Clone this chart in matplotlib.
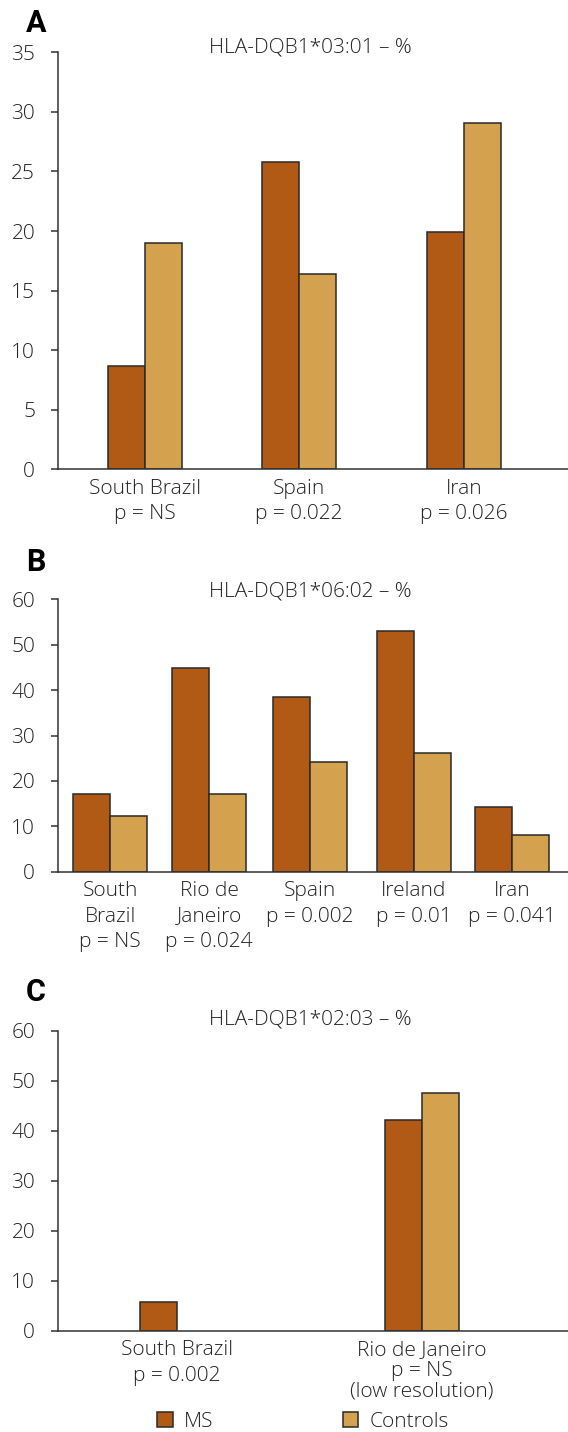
import numpy as np
import matplotlib.pyplot as plt

plt.rcParams["font.family"] = ["Open Sans", "DejaVu Sans"]
plt.rcParams["font.weight"] = "light"

# panel A - HLA-DQB1*03:01
a_labels = ["South Brazil\np = NS", "Spain\np = 0.022", "Iran\np = 0.026"]
a_ms = [8.7, 25.8, 19.9]
a_ctrl = [19.0, 16.4, 29.1]

# panel B - HLA-DQB1*06:02
b_labels = ["South\nBrazil\np = NS", "Rio de\nJaneiro\np = 0.024", "Spain\np = 0.002",
            "Ireland\np = 0.01", "Iran\np = 0.041"]
b_ms = [17.1, 44.9, 38.5, 53.1, 14.3]
b_ctrl = [12.3, 17.1, 24.2, 26.2, 8.0]

# panel C - HLA-DQB1*02:03 (no controls bar for South Brazil)
c_labels = ["South Brazil\np = 0.002", "Rio de Janeiro\np = NS\n(low resolution)"]
c_ms = [5.8, 42.2]
c_ctrl = [np.nan, 47.6]

ms_color = "#b15a16"
ctrl_color = "#d4a24e"
edge = "#2a2a2a"
axis_col = "#333333"
txt_col = "#222222"
fs = 15

W, H = 568, 1432
fig = plt.figure(figsize=(W / 100, H / 100), dpi=100)


def px_rect(top, bottom, left=58, right=568):
    return [left / W, 1 - bottom / H, (right - left) / W, (bottom - top) / H]


def panel(rect, pos, labels, ms, ctrl, ymax, step, letter, title, letter_y, title_y):
    ax = fig.add_axes(rect)
    pos = np.array(pos)
    bars_ms = ax.bar(pos - 0.5, ms, width=1, color=ms_color, edgecolor=edge, linewidth=1.1, label="MS")
    bars_c = ax.bar(pos + 0.5, ctrl, width=1, color=ctrl_color, edgecolor=edge, linewidth=1.1, label="Controls")
    ax.set_xlim(0, 13.78)
    ax.set_ylim(0, ymax)
    ax.set_yticks(np.arange(0, ymax + 1, step))
    ax.set_xticks(pos, labels)
    for s in ["top", "right"]:
        ax.spines[s].set_visible(False)
    for s in ["left", "bottom"]:
        ax.spines[s].set_color(axis_col)
        ax.spines[s].set_linewidth(1.1)
    ax.tick_params(axis="y", direction="out", length=5.4, width=1.1, color=axis_col,
                   labelsize=fs, pad=11, labelcolor=txt_col)
    ax.tick_params(axis="x", length=0, labelsize=fs, pad=7, labelcolor=txt_col)
    for t in ax.get_xticklabels():
        t.set_linespacing(1.34)
    fig.text(26 / W, 1 - letter_y / H, letter, fontsize=22, fontweight="bold", family="Roboto",
             ha="left", va="center", color="black")
    fig.text(310 / W, 1 - title_y / H, title, fontsize=fs, ha="center", va="center", color=txt_col)
    return ax, bars_ms, bars_c


ax_a, _, _ = panel(px_rect(52.3, 469.3), [2.35, 6.51, 10.97], a_labels, a_ms, a_ctrl,
                   35, 5, "A", "HLA-DQB1*03:01 – %", 23, 48)
ax_b, _, _ = panel(px_rect(599.3, 871.7), [1.41, 4.08, 6.80, 9.61, 12.27], b_labels, b_ms, b_ctrl,
                   60, 10, "B", "HLA-DQB1*06:02 – %", 562, 591.7)
ax_c, h_ms, h_c = panel(px_rect(1031, 1330.7), [3.21, 9.83], c_labels, c_ms, c_ctrl,
                        60, 10, "C", "HLA-DQB1*02:03 – %", 992, 1019)
# the Rio de Janeiro label in C is set tighter
ax_c.get_xticklabels()[1].set_linespacing(1.03)

fig.legend([h_ms, h_c], ["MS", "Controls"], loc="center", bbox_to_anchor=(303 / W, 1 - 1422 / H),
           ncol=2, frameon=False, fontsize=fs, handlelength=0.75, handleheight=0.75,
           handletextpad=0.55, columnspacing=6.2, borderpad=0, labelcolor=txt_col)

fig.savefig("out.png", dpi=100)
